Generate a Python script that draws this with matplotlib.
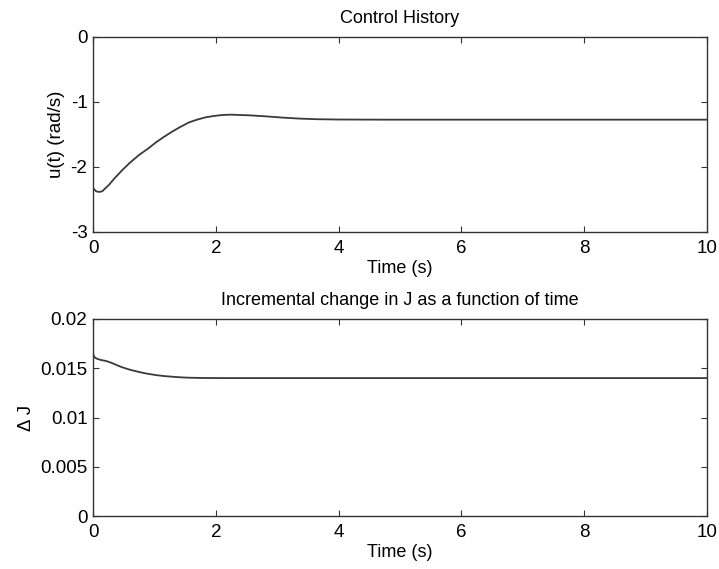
import numpy as np
import matplotlib.pyplot as plt

plt.rcParams['font.family'] = ['Liberation Sans', 'DejaVu Sans']

# control input u(t), rad/s
t_u = [0, 0.05, 0.1, 0.15, 0.26, 0.35, 0.48, 0.6, 0.75, 0.9, 1.02, 1.15, 1.29, 1.42,
       1.56, 1.7, 1.84, 1.97, 2.11, 2.25, 2.38, 2.54, 2.8, 3.08, 3.35, 3.63, 4.0,
       4.7, 5.5, 7.0, 8.5, 10.0]
u = [-2.33, -2.38, -2.39, -2.38, -2.28, -2.18, -2.05, -1.94, -1.82, -1.72, -1.63,
     -1.545, -1.46, -1.39, -1.32, -1.275, -1.24, -1.22, -1.205, -1.20, -1.205,
     -1.21, -1.225, -1.245, -1.26, -1.27, -1.275, -1.277, -1.277, -1.277, -1.277, -1.277]

# incremental change in J
t_dj = [0, 0.02, 0.05, 0.12, 0.21, 0.3, 0.4, 0.48, 0.6, 0.75, 0.88, 1.02, 1.15,
        1.29, 1.42, 1.56, 1.8, 2.2, 3.0, 5.0, 7.5, 10.0]
dj = [0.01645, 0.01615, 0.0160, 0.01585, 0.01574, 0.01555, 0.01528, 0.01509,
      0.01485, 0.01462, 0.01445, 0.01431, 0.01421, 0.01414, 0.01408, 0.01404,
      0.01401, 0.0140, 0.0140, 0.0140, 0.0140, 0.0140]

x_ticks = [0, 2, 4, 6, 8, 10]
u_ticks = [-3, -2, -1, 0]
u_labels = ['-3', '-2', '-1', '0']
dj_ticks = [0, 0.005, 0.01, 0.015, 0.02]
dj_labels = ['0', '0.005', '0.01', '0.015', '0.02']

line_col = '#3a3a3a'
fig = plt.figure(figsize=(7.19, 5.69), dpi=100)
ax1 = fig.add_axes([0.1294, 0.593, 0.854, 0.3425])
ax2 = fig.add_axes([0.1294, 0.0931, 0.854, 0.3463])


def style(ax):
    for s in ax.spines.values():
        s.set_color('#333333')
        s.set_linewidth(1.0)
    ax.tick_params(direction='in', top=True, right=True, length=4,
                   width=0.8, color='#333333', labelsize=13.5)
    ax.tick_params(axis='x', pad=6)
    ax.tick_params(axis='y', pad=4)
    ax.set_xlim(0, 10)
    ax.set_xticks(x_ticks)
    ax.set_xticklabels([str(v) for v in x_ticks])


ax1.plot(t_u, u, color=line_col, lw=1.3)
style(ax1)
ax1.set_ylim(-3, 0)
ax1.set_yticks(u_ticks)
ax1.set_yticklabels(u_labels)
ax1.set_title('Control History', fontsize=13, pad=10)
ax1.set_xlabel('Time (s)', fontsize=13, labelpad=2)
ax1.set_ylabel('u(t) (rad/s)', fontsize=13.5, labelpad=4)

ax2.plot(t_dj, dj, color=line_col, lw=1.3)
style(ax2)
ax2.set_ylim(0, 0.02)
ax2.set_yticks(dj_ticks)
ax2.set_yticklabels(dj_labels)
ax2.set_title('Incremental change in J as a function of time', fontsize=13, pad=10)
ax2.set_xlabel('Time (s)', fontsize=13, labelpad=2)
ax2.set_ylabel('Δ J', fontsize=13.5, labelpad=4)

fig.savefig('out.png', dpi=100)
